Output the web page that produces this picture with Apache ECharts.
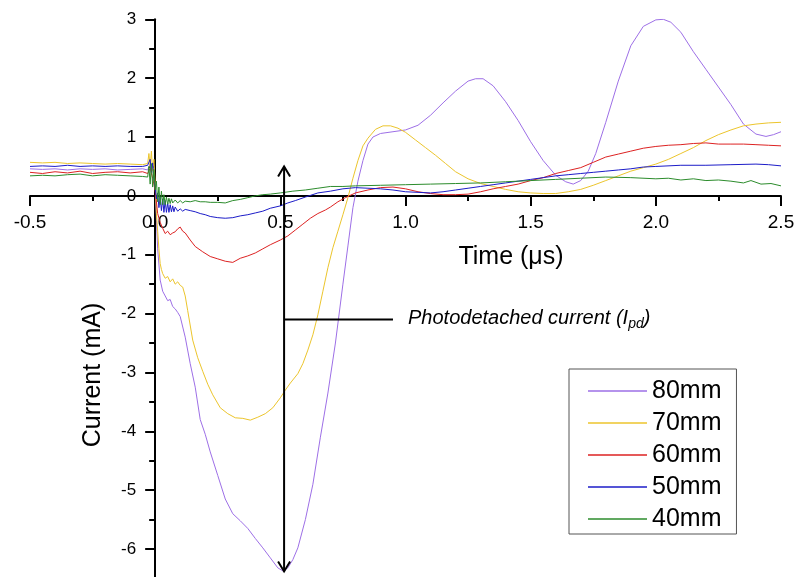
<!DOCTYPE html>
<html>
<head>
<meta charset="utf-8">
<script src="https://cdn.jsdelivr.net/npm/echarts@6/dist/echarts.min.js"></script>
<style>
  html, body { margin: 0; padding: 0; background: #fff; }
  #chart { width: 800px; height: 577px; }
</style>
</head>
<body>
<div id="chart"></div>
<script>
// Photodetachment probe current traces for several probe positions
const FONT = '"Liberation Sans", Arial, sans-serif';

const legendNames = ['80mm', '70mm', '60mm', '50mm', '40mm'];
const xTicks = [-0.5, 0.0, 0.5, 1.0, 1.5, 2.0, 2.5];

// 80 mm
const t80 = [-0.5,-0.45,-0.4,-0.35,-0.3,-0.25,-0.2,-0.15,-0.1,-0.05,-0.03,-0.02,-0.015,-0.01,-0.005,0,0.005,0.01,0.02,0.03,0.04,0.05,0.06,0.07,0.08,0.09,0.1,0.12,0.14,0.16,0.18,0.2,0.22,0.25,0.28,0.31,0.34,0.37,0.4,0.43,0.46,0.49,0.51,0.53,0.55,0.57,0.6,0.63,0.66,0.69,0.72,0.75,0.77,0.79,0.81,0.83,0.85,0.87,0.9,0.95,1.0,1.05,1.1,1.15,1.2,1.25,1.28,1.31,1.35,1.4,1.45,1.5,1.55,1.6,1.64,1.67,1.7,1.73,1.76,1.8,1.85,1.9,1.95,2.0,2.03,2.06,2.1,2.15,2.2,2.25,2.3,2.35,2.4,2.44,2.47,2.5];
const i80 = [0.46,0.45,0.46,0.44,0.46,0.45,0.46,0.44,0.45,0.46,0.44,0.55,0.36,0.52,0.3,0.2,-0.4,-0.9,-1.43,-1.62,-1.7,-1.78,-1.76,-1.88,-1.92,-1.98,-2.05,-2.4,-2.85,-3.25,-3.8,-4.05,-4.35,-4.75,-5.15,-5.4,-5.52,-5.65,-5.82,-5.98,-6.15,-6.32,-6.37,-6.32,-6.18,-5.98,-5.5,-4.9,-4.1,-3.35,-2.5,-1.5,-0.85,-0.2,0.25,0.6,0.88,1.0,1.06,1.09,1.12,1.2,1.37,1.58,1.78,1.95,1.99,1.99,1.87,1.6,1.28,0.92,0.6,0.35,0.24,0.2,0.26,0.42,0.72,1.25,1.95,2.55,2.88,2.99,3.0,2.95,2.78,2.45,2.15,1.85,1.55,1.22,1.05,1.01,1.04,1.09];

// 70 mm
const t70 = [-0.5,-0.45,-0.4,-0.35,-0.3,-0.25,-0.2,-0.15,-0.1,-0.05,-0.03,-0.025,-0.02,-0.015,-0.01,-0.005,0,0.005,0.01,0.015,0.02,0.025,0.03,0.04,0.05,0.06,0.07,0.08,0.09,0.1,0.11,0.12,0.13,0.15,0.17,0.19,0.21,0.23,0.26,0.29,0.32,0.35,0.38,0.41,0.44,0.47,0.5,0.52,0.54,0.57,0.59,0.61,0.63,0.65,0.67,0.69,0.71,0.73,0.75,0.77,0.79,0.81,0.83,0.85,0.88,0.91,0.94,0.97,1.0,1.04,1.08,1.12,1.16,1.2,1.25,1.3,1.35,1.4,1.45,1.5,1.55,1.6,1.65,1.7,1.75,1.8,1.85,1.9,1.95,2.0,2.05,2.1,2.15,2.2,2.25,2.3,2.35,2.4,2.45,2.5];
const i70 = [0.57,0.56,0.57,0.55,0.56,0.55,0.54,0.55,0.54,0.53,0.55,0.72,0.5,0.76,0.42,0.62,0.2,-0.3,-0.6,-0.9,-1.15,-1.25,-1.32,-1.4,-1.37,-1.46,-1.41,-1.5,-1.46,-1.52,-1.55,-1.7,-1.95,-2.45,-2.75,-2.98,-3.2,-3.38,-3.6,-3.7,-3.77,-3.78,-3.81,-3.76,-3.7,-3.6,-3.43,-3.3,-3.18,-3.02,-2.85,-2.62,-2.36,-2.02,-1.62,-1.22,-0.88,-0.6,-0.32,-0.03,0.3,0.6,0.85,0.98,1.13,1.19,1.19,1.15,1.08,0.95,0.82,0.69,0.55,0.41,0.29,0.21,0.16,0.11,0.07,0.05,0.04,0.04,0.07,0.11,0.18,0.26,0.34,0.42,0.48,0.54,0.62,0.72,0.82,0.94,1.04,1.12,1.19,1.22,1.24,1.25];

// 60 mm
const t60 = [-0.5,-0.45,-0.4,-0.35,-0.3,-0.25,-0.2,-0.15,-0.1,-0.05,-0.03,-0.02,-0.01,0,0.01,0.02,0.03,0.04,0.05,0.06,0.07,0.08,0.09,0.1,0.11,0.12,0.14,0.16,0.19,0.22,0.25,0.28,0.31,0.34,0.37,0.4,0.43,0.46,0.5,0.53,0.56,0.59,0.62,0.65,0.68,0.7,0.73,0.76,0.8,0.85,0.9,0.95,1.0,1.05,1.1,1.15,1.2,1.25,1.3,1.35,1.4,1.45,1.5,1.55,1.6,1.65,1.7,1.75,1.8,1.85,1.9,1.95,2.0,2.05,2.1,2.15,2.2,2.25,2.3,2.35,2.4,2.45,2.5];
const i60 = [0.40,0.38,0.41,0.39,0.42,0.38,0.40,0.41,0.39,0.41,0.38,0.47,0.3,0.1,-0.3,-0.45,-0.55,-0.64,-0.6,-0.66,-0.63,-0.61,-0.56,-0.53,-0.6,-0.63,-0.75,-0.86,-0.95,-1.03,-1.07,-1.11,-1.13,-1.06,-1.02,-0.97,-0.9,-0.83,-0.75,-0.68,-0.58,-0.48,-0.38,-0.3,-0.24,-0.19,-0.1,-0.03,0.05,0.1,0.14,0.15,0.12,0.07,0.04,0.02,0.02,0.03,0.07,0.12,0.16,0.2,0.26,0.31,0.38,0.43,0.48,0.57,0.66,0.71,0.76,0.81,0.84,0.86,0.87,0.89,0.9,0.88,0.88,0.88,0.87,0.86,0.85];

// 50 mm
const t50 = [-0.5,-0.45,-0.4,-0.35,-0.3,-0.25,-0.2,-0.15,-0.1,-0.05,-0.03,-0.02,-0.015,-0.01,-0.005,0,0.005,0.01,0.015,0.02,0.025,0.03,0.035,0.04,0.045,0.05,0.055,0.06,0.065,0.07,0.075,0.08,0.09,0.1,0.11,0.12,0.14,0.16,0.18,0.2,0.22,0.25,0.28,0.31,0.34,0.37,0.4,0.43,0.46,0.5,0.53,0.56,0.6,0.65,0.7,0.75,0.8,0.85,0.9,0.95,1.0,1.05,1.1,1.15,1.2,1.25,1.3,1.35,1.4,1.45,1.5,1.55,1.6,1.65,1.7,1.75,1.8,1.85,1.9,1.95,2.0,2.1,2.2,2.3,2.4,2.45,2.5];
const i50 = [0.50,0.51,0.50,0.52,0.50,0.51,0.50,0.51,0.50,0.50,0.52,0.62,0.4,0.56,0.3,0.15,-0.05,0.05,-0.2,-0.02,-0.25,-0.05,-0.28,-0.08,-0.28,-0.12,-0.28,-0.15,-0.27,-0.17,-0.27,-0.19,-0.26,-0.22,-0.26,-0.23,-0.25,-0.27,-0.3,-0.32,-0.35,-0.37,-0.38,-0.37,-0.34,-0.32,-0.29,-0.26,-0.21,-0.17,-0.12,-0.08,-0.02,0.05,0.08,0.12,0.14,0.13,0.12,0.1,0.07,0.06,0.05,0.07,0.1,0.13,0.16,0.19,0.22,0.25,0.28,0.31,0.34,0.36,0.38,0.4,0.42,0.44,0.46,0.49,0.5,0.52,0.52,0.53,0.54,0.53,0.51];

// 40 mm
const t40 = [-0.5,-0.45,-0.4,-0.35,-0.3,-0.25,-0.2,-0.15,-0.1,-0.05,-0.03,-0.025,-0.02,-0.015,-0.01,-0.005,0,0.005,0.01,0.015,0.02,0.025,0.03,0.035,0.04,0.045,0.05,0.055,0.06,0.065,0.07,0.08,0.09,0.1,0.11,0.12,0.14,0.16,0.18,0.2,0.22,0.25,0.28,0.31,0.34,0.37,0.4,0.43,0.46,0.5,0.55,0.6,0.65,0.7,0.75,0.8,0.9,1.0,1.1,1.2,1.3,1.4,1.5,1.6,1.7,1.8,1.9,2.0,2.05,2.1,2.15,2.2,2.25,2.3,2.35,2.38,2.42,2.46,2.5];
const i40 = [0.34,0.35,0.34,0.36,0.37,0.34,0.36,0.35,0.34,0.33,0.32,0.5,0.2,0.55,0.15,0.45,0.1,0.25,-0.1,0.15,-0.15,0.08,-0.15,0.02,-0.15,-0.02,-0.14,-0.04,-0.13,-0.05,-0.12,-0.07,-0.12,-0.08,-0.12,-0.09,-0.1,-0.08,-0.1,-0.1,-0.11,-0.11,-0.12,-0.08,-0.06,-0.03,0.0,0.02,0.03,0.05,0.08,0.1,0.13,0.16,0.16,0.17,0.18,0.19,0.2,0.21,0.22,0.24,0.26,0.28,0.3,0.32,0.31,0.29,0.3,0.27,0.29,0.26,0.27,0.25,0.22,0.26,0.2,0.21,0.17];

// Double arrow marking the photodetached current amplitude (data units)
const arrowX = 0.515;
const arrowTop = 0.5;
const arrowBottom = -6.38;
const leaderY = -2.1;
const leaderEnd = 0.95;

const traces = [
  { name: '80mm', t: t80, v: i80, color: '#9d6fe6' },
  { name: '70mm', t: t70, v: i70, color: '#ecc52c' },
  { name: '60mm', t: t60, v: i60, color: '#dd2222' },
  { name: '50mm', t: t50, v: i50, color: '#1c1cc8' },
  { name: '40mm', t: t40, v: i40, color: '#2c8c2c' }
];

// Plot area: the value range runs below the visible page so the
// lower end of the current axis is cut off by the bottom edge.
const X_MIN = -0.5, X_MAX = 2.5, Y_MIN = -7, Y_MAX = 3;
const GRID = { left: 30, top: 19.3, width: 751, height: 588.6 };
// Axes cross at the origin: shift each axis from the grid edge to zero.
const xZeroPx = GRID.width * (0 - X_MIN) / (X_MAX - X_MIN);
const yZeroFromBottom = GRID.height * (0 - Y_MIN) / (Y_MAX - Y_MIN);

const chart = echarts.init(document.getElementById('chart'), null, { renderer: 'canvas' });

const lineSeries = traces.map(tr => ({
  name: tr.name,
  type: 'line',
  data: tr.t.map((t, k) => [t, tr.v[k]]),
  symbol: 'none',
  showSymbol: false,
  lineStyle: { color: tr.color, width: 1 },
  itemStyle: { color: tr.color },
  emphasis: { disabled: true },
  z: 2
}));

const annotationSeries = {
  type: 'custom',
  name: 'annotation',
  data: [[arrowX, leaderY]],
  z: 5,
  silent: true,
  renderItem: function (params, api) {
    const top = api.coord([arrowX, arrowTop]);
    const bot = api.coord([arrowX, arrowBottom]);
    const a = api.coord([arrowX, leaderY]);
    const b = api.coord([leaderEnd, leaderY]);
    const st = { stroke: '#000', lineWidth: 2, fill: null };
    return {
      type: 'group',
      children: [
        { type: 'line', shape: { x1: top[0], y1: top[1], x2: bot[0], y2: bot[1] }, style: st },
        { type: 'polyline', shape: { points: [[top[0] - 6, top[1] + 10], [top[0], top[1]], [top[0] + 6, top[1] + 10]] }, style: st },
        { type: 'polyline', shape: { points: [[bot[0] - 6, bot[1] - 10], [bot[0], bot[1]], [bot[0] + 6, bot[1] - 10]] }, style: st },
        { type: 'line', shape: { x1: a[0], y1: a[1], x2: b[0], y2: b[1] }, style: st }
      ]
    };
  }
};

chart.setOption({
  animation: false,
  backgroundColor: '#fff',
  grid: {
    left: GRID.left, top: GRID.top, width: GRID.width, height: GRID.height,
    containLabel: false, outerBoundsMode: 'none'
  },
  xAxis: {
    type: 'value',
    min: X_MIN,
    max: X_MAX,
    interval: 0.5,
    position: 'bottom',
    offset: -yZeroFromBottom,
    axisLine: { onZero: false, lineStyle: { color: '#000', width: 2 } },
    axisTick: { show: true, inside: false, length: 10, lineStyle: { color: '#000', width: 2 } },
    minorTick: { show: true, splitNumber: 2, length: 5, lineStyle: { color: '#000', width: 2 } },
    splitLine: { show: false },
    axisLabel: {
      color: '#000', fontSize: 19, fontFamily: FONT, margin: 17,
      formatter: v => v.toFixed(1)
    }
  },
  yAxis: {
    type: 'value',
    min: Y_MIN,
    max: Y_MAX,
    interval: 1,
    position: 'left',
    offset: -xZeroPx,
    axisLine: { onZero: false, lineStyle: { color: '#000', width: 2 } },
    axisTick: { show: true, inside: false, length: 10, lineStyle: { color: '#000', width: 2 } },
    minorTick: { show: true, splitNumber: 2, length: 6, lineStyle: { color: '#000', width: 2 } },
    splitLine: { show: false },
    axisLabel: { color: '#000', fontSize: 17, fontFamily: FONT, margin: 19 }
  },
  legend: {
    data: legendNames,
    orient: 'vertical',
    left: 569,
    top: 369,
    icon: 'rect',
    itemWidth: 59,
    itemHeight: 1.5,
    itemGap: 4,
    padding: [8, 15, 1, 19],
    borderColor: '#555',
    borderWidth: 1,
    backgroundColor: '#fff',
    textStyle: { color: '#000', fontSize: 25, fontFamily: FONT, lineHeight: 28 },
    selectedMode: false
  },
  graphic: [
    {
      type: 'text', x: 511, y: 257, silent: true,
      style: { text: 'Time (μs)', fill: '#000', fontSize: 25, fontFamily: FONT, align: 'center', verticalAlign: 'middle' }
    },
    {
      type: 'text', x: 93, y: 375, rotation: Math.PI / 2, silent: true,
      style: { text: 'Current (mA)', fill: '#000', fontSize: 25, fontFamily: FONT, align: 'center', verticalAlign: 'middle' }
    },
    {
      type: 'text', x: 408, y: 318, silent: true,
      style: {
        text: '{m|Photodetached current (I}{s|pd}{m|)}',
        align: 'left', verticalAlign: 'middle',
        rich: {
          m: { fontSize: 20, fontStyle: 'italic', fontFamily: FONT, fill: '#000' },
          s: { fontSize: 14, fontStyle: 'italic', fontFamily: FONT, fill: '#000', padding: [12, 0, 0, 0] }
        }
      }
    }
  ],
  series: lineSeries.concat([annotationSeries])
});
</script>
</body>
</html>
